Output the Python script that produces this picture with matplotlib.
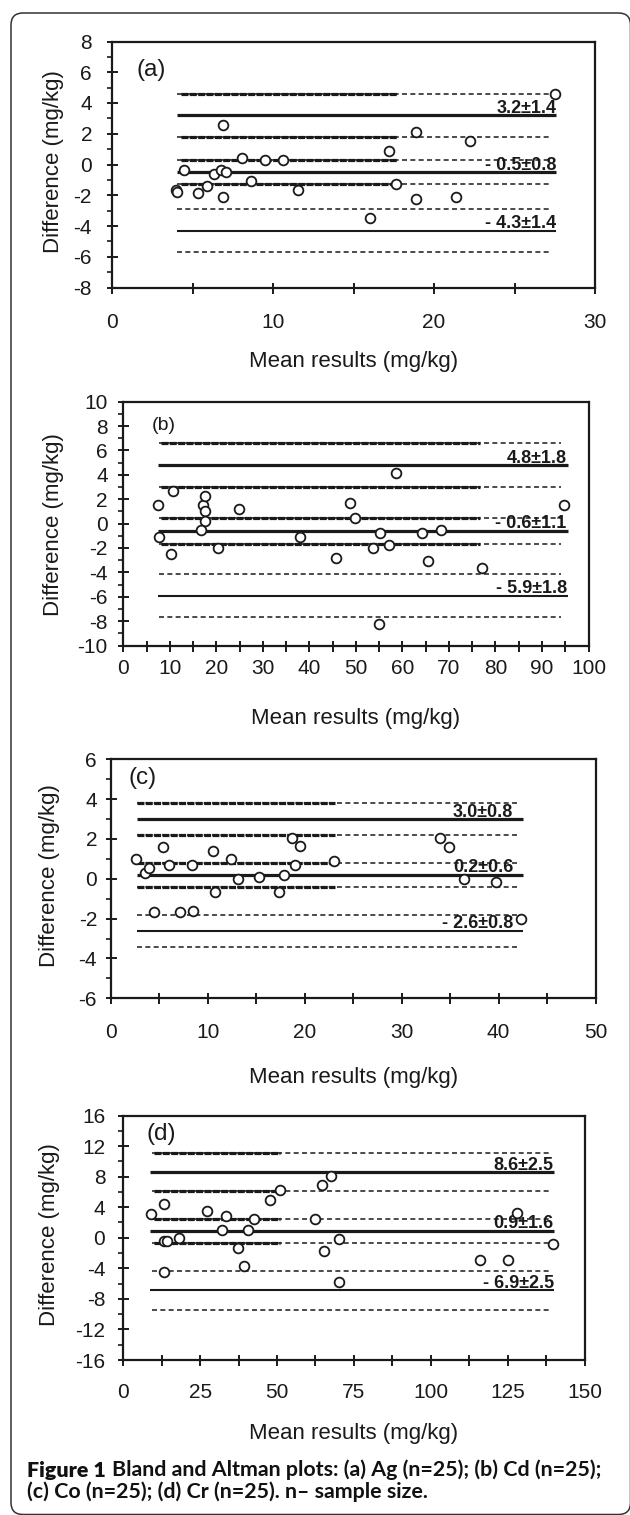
import matplotlib
matplotlib.use('Agg')
import matplotlib.pyplot as plt
from matplotlib.patches import FancyBboxPatch
from matplotlib.transforms import IdentityTransform
from matplotlib.ticker import MultipleLocator, FuncFormatter

plt.rcParams['font.family'] = ['Liberation Sans', 'DejaVu Sans']
plt.rcParams['lines.scale_dashes'] = False

W, H = 630, 1515
PX = 0.72  # points per pixel at dpi 100

# ---------------- data ----------------
# (a) Ag
ag_mean = [4.0, 4.05, 4.48, 5.37, 5.91, 6.34, 6.74, 7.11, 6.88, 6.88, 8.10, 8.62,
           9.50, 10.60, 11.57, 16.01, 17.21, 17.67, 18.86, 18.86, 21.38, 22.25, 27.5]
ag_diff = [-1.65, -1.8, -0.39, -1.84, -1.37, -0.61, -0.33, -0.50, 2.58, -2.10, 0.43, -1.08,
           0.30, 0.30, -1.63, -3.47, 0.87, -1.30, 2.13, -2.23, -2.10, 1.56, 4.57]
ag_loa = [3.2, -0.5, -4.3]
ag_ci = [1.4, 0.8, 1.4]
ag_labels = ['3.2±1.4', '- 0.5±0.8', '- 4.3±1.4']

# (b) Cd
cd_mean = [7.4, 7.6, 10.7, 10.3, 17.1, 17.6, 17.6, 17.6, 16.8, 20.3, 24.8, 38.0, 45.7,
           48.8, 49.8, 53.6, 55.2, 54.9, 57.1, 58.7, 64.3, 65.5, 68.2, 77.2, 94.8]
cd_diff = [1.51, -1.10, 2.66, -2.52, 1.51, 2.25, 1.07, 0.22, -0.55, -1.97, 1.21, -1.10, -2.82,
           1.67, 0.49, -1.97, -0.79, -8.27, -1.78, 4.11, -0.79, -3.07, -0.49, -3.64, 1.51]
cd_loa = [4.8, -0.6, -5.9]
cd_ci = [1.8, 1.1, 1.8]
cd_labels = ['4.8±1.8', '- 0.6±1.1', '- 5.9±1.8']

# (c) Co
co_mean = [2.57, 3.49, 3.9, 4.4, 5.36, 5.94, 7.14, 8.31, 8.51, 10.55, 10.71, 12.38, 13.08,
           15.32, 17.32, 17.9, 18.65, 19.02, 19.52, 23.05, 33.93, 34.84, 36.46, 39.78, 42.36]
co_diff = [0.98, 0.31, 0.54, -1.68, 1.60, 0.71, -1.68, 0.71, -1.60, 1.41, -0.66, 0.98, -0.01,
           0.09, -0.66, 0.19, 2.03, 0.71, 1.67, 0.88, 2.03, 1.60, -0.01, -0.18, -2.03]
co_loa = [3.0, 0.2, -2.6]
co_ci = [0.8, 0.6, 0.8]
co_labels = ['3.0±0.8', '0.2±0.6', '- 2.6±0.8']

# (d) Cr
cr_mean = [9.13, 13.3, 13.3, 14.35, 13.3, 18.0, 27.1, 32.1, 33.3, 37.4, 39.1, 40.7, 42.4,
           47.6, 51.1, 62.3, 64.7, 65.2, 67.6, 70.0, 70.0, 116.1, 125.2, 128.1, 139.6]
cr_diff = [3.08, 4.43, -0.37, -0.37, -4.52, -0.07, 3.52, 1.03, 2.86, -1.38, -3.65, 1.03, 2.42,
           4.96, 6.27, 2.42, 6.84, -1.72, 8.14, -0.15, -5.74, -2.95, -2.95, 3.30, -0.85]
cr_loa = [8.6, 0.9, -6.9]
cr_ci = [2.5, 1.6, 2.5]
cr_labels = ['8.6±2.5', '0.9±1.6', '- 6.9±2.5']

x_label = 'Mean results (mg/kg)'
y_label = 'Difference (mg/kg)'
panel_tags = ['(a)', '(b)', '(c)', '(d)']
caption_head = 'Figure 1'
caption_line1 = 'Bland and Altman plots: (a) Ag (n=25); (b) Cd (n=25);'
caption_line2 = '(c) Co (n=25); (d) Cr (n=25). n– sample size.'

# ---------------- layout / style per panel ----------------
panels = [
    dict(x=ag_mean, y=ag_diff, loa=ag_loa, ci=ag_ci, labels=ag_labels, tag=panel_tags[0],
         box=(112, 41.5, 595, 287.5), xlim=(0, 30), ylim=(-8, 8), xmaj=10, xmin=5, ymaj=2, ymin=1,
         xgap=26, ygap=20, solid=(4.05, 27.6), dash=(4.05, 27.3), dash_in0=4.3, thick_end=17.7,
         lab_x=27.6, xlab_y=362, ylab=(54, 162), tag_pos=(137, 70), tag_size=17.5),
    dict(x=cd_mean, y=cd_diff, loa=cd_loa, ci=cd_ci, labels=cd_labels, tag=panel_tags[1],
         box=(123.3, 401.7, 588.5, 645.5), xlim=(0, 100), ylim=(-10, 10), xmaj=10, xmin=5, ymaj=2, ymin=1,
         xgap=13, ygap=15.5, solid=(7.4, 95.6), dash=(7.6, 94.0), dash_in0=8.1, thick_end=76.7,
         lab_x=95.3, xlab_y=718, ylab=(54, 525), tag_pos=(152, 425), tag_size=14),
    dict(x=co_mean, y=co_diff, loa=co_loa, ci=co_ci, labels=co_labels, tag=panel_tags[2],
         box=(111, 759.3, 595.5, 998.3), xlim=(0, 50), ylim=(-6, 6), xmaj=10, xmin=5, ymaj=2, ymin=1,
         xgap=25, ygap=14, solid=(2.7, 42.5), dash=(2.7, 42.0), dash_in0=2.7, thick_end=23.1,
         lab_x=41.5, xlab_y=1078, ylab=(50, 876), tag_pos=(129, 778), tag_size=17.5),
    dict(x=cr_mean, y=cr_diff, loa=cr_loa, ci=cr_ci, labels=cr_labels, tag=panel_tags[3],
         box=(123.3, 1115.5, 584.5, 1360), xlim=(0, 150), ylim=(-16, 16), xmaj=25, xmin=12.5, ymaj=4, ymin=2,
         xgap=23, ygap=18, solid=(8.7, 140), dash=(9.4, 138.5), dash_in0=10.0, thick_end=51,
         lab_x=140, xlab_y=1433, ylab=(50, 1235), tag_pos=(147, 1134), tag_size=17.5),
]

fig = plt.figure(figsize=(W / 100, H / 100), dpi=100)
fig.patch.set_facecolor('white')

TICK_FS = 15
LABEL_FS = 16
INK = '#1a1a1a'

for p in panels:
    l, t, r, b = p['box']
    ax = fig.add_axes([l / W, 1 - b / H, (r - l) / W, (b - t) / H])
    ax.set_xlim(*p['xlim'])
    ax.set_ylim(*p['ylim'])
    for s in ax.spines.values():
        s.set_linewidth(1.6)
        s.set_color(INK)
    ax.xaxis.set_major_locator(MultipleLocator(p['xmaj']))
    ax.xaxis.set_minor_locator(MultipleLocator(p['xmin']))
    ax.yaxis.set_major_locator(MultipleLocator(p['ymaj']))
    ax.yaxis.set_minor_locator(MultipleLocator(p['ymin']))
    tick_len = 11 * PX
    ax.tick_params(axis='x', which='both', direction='inout', length=tick_len, width=1.4,
                   color=INK, labelsize=TICK_FS, pad=(p['xgap'] - 5.5) * PX, labelcolor=INK)
    ax.tick_params(axis='y', which='major', direction='inout', length=tick_len, width=1.4,
                   color=INK, labelsize=TICK_FS, pad=(p['ygap'] - 5.5) * PX, labelcolor=INK)
    ax.tick_params(axis='y', which='minor', direction='out', length=5 * PX, width=1.2, color=INK)
    ax.tick_params(top=False, right=False)
    ax.xaxis.set_major_formatter(FuncFormatter(lambda v, pos: f'{v:g}'))
    ax.yaxis.set_major_formatter(FuncFormatter(lambda v, pos: f'{v:g}'))

    s0, s1 = p['solid']
    d0, d1 = p['dash']
    for i, (m, c) in enumerate(zip(p['loa'], p['ci'])):
        lw = 2.3 if i < 2 else 1.5
        ax.plot([s0, s1], [m, m], color=INK, lw=lw, solid_capstyle='butt', zorder=2)
        for yy in (m + c, m - c):
            ax.plot([d0, d1], [yy, yy], color=INK, lw=1.1, linestyle=(0, (3.6, 2.4)),
                    dash_capstyle='butt', zorder=2)
            if i < 2:
                ax.plot([p['dash_in0'], p['thick_end']], [yy, yy], color=INK, lw=2.3,
                        linestyle=(0, (5.0, 1.0)), dash_capstyle='butt', zorder=2)
        ax.annotate(p['labels'][i], xy=(p['lab_x'], m), xytext=(0, 1.8), textcoords='offset points',
                    ha='right', va='baseline', fontsize=13, fontweight='bold', color=INK, zorder=3)

    ax.plot(p['x'], p['y'], linestyle='none', marker='o', ms=7, mfc='white', mec=INK, mew=1.3, zorder=4)

    xl = (l + r) / 2
    fig.text(xl / W, 1 - p['xlab_y'] / H, x_label, ha='center', va='center', fontsize=LABEL_FS, color=INK)
    fig.text(p['ylab'][0] / W, 1 - p['ylab'][1] / H, y_label, ha='center', va='center',
             rotation=90, fontsize=LABEL_FS, color=INK)
    fig.text(p['tag_pos'][0] / W, 1 - p['tag_pos'][1] / H, p['tag'], ha='left', va='center',
             fontsize=p['tag_size'], color=INK)

# rounded frame around the figure (display pixel coordinates)
frame = FancyBboxPatch((11, H - 1514.5), 630.5 - 11, 1514.5 - 13,
                       boxstyle='round,pad=0,rounding_size=12', transform=IdentityTransform(),
                       fill=False, edgecolor='#333333', linewidth=1.1)
fig.add_artist(frame)

# caption, sized so that the first line spans the same width as in the source
cap_family = ['Lato', 'DejaVu Sans']
CAP_X0, CAP_X1 = 27, 600
CAP_Y1, CAP_Y2 = 1470, 1492
HEAD_W, BODY_W = 'heavy', 'bold'
renderer = fig.canvas.get_renderer()
cap_fs = 12.0
for _ in range(4):
    t1 = fig.text(CAP_X0 / W, 1 - CAP_Y1 / H, caption_head, ha='left', va='center', fontsize=cap_fs,
                  fontweight=HEAD_W, family=cap_family, color='#111111')
    bb1 = t1.get_window_extent(renderer=renderer)
    t2 = fig.text((bb1.x1 + cap_fs * 0.3 / PX) / W, 1 - CAP_Y1 / H, caption_line1, ha='left', va='center',
                  fontsize=cap_fs, fontweight=BODY_W, family=cap_family, color='#111111')
    bb2 = t2.get_window_extent(renderer=renderer)
    width = bb2.x1 - bb1.x0
    t1.remove()
    t2.remove()
    cap_fs *= (CAP_X1 - CAP_X0) / width

t1 = fig.text(CAP_X0 / W, 1 - CAP_Y1 / H, caption_head, ha='left', va='center', fontsize=cap_fs,
              fontweight=HEAD_W, family=cap_family, color='#111111')
bb1 = t1.get_window_extent(renderer=renderer)
fig.text((bb1.x1 + cap_fs * 0.3 / PX) / W, 1 - CAP_Y1 / H, caption_line1, ha='left', va='center',
         fontsize=cap_fs, fontweight=BODY_W, family=cap_family, color='#111111')
fig.text(CAP_X0 / W, 1 - CAP_Y2 / H, caption_line2, ha='left', va='center',
         fontsize=cap_fs, fontweight=BODY_W, family=cap_family, color='#111111')

fig.savefig('out.png', dpi=100, facecolor='white')
